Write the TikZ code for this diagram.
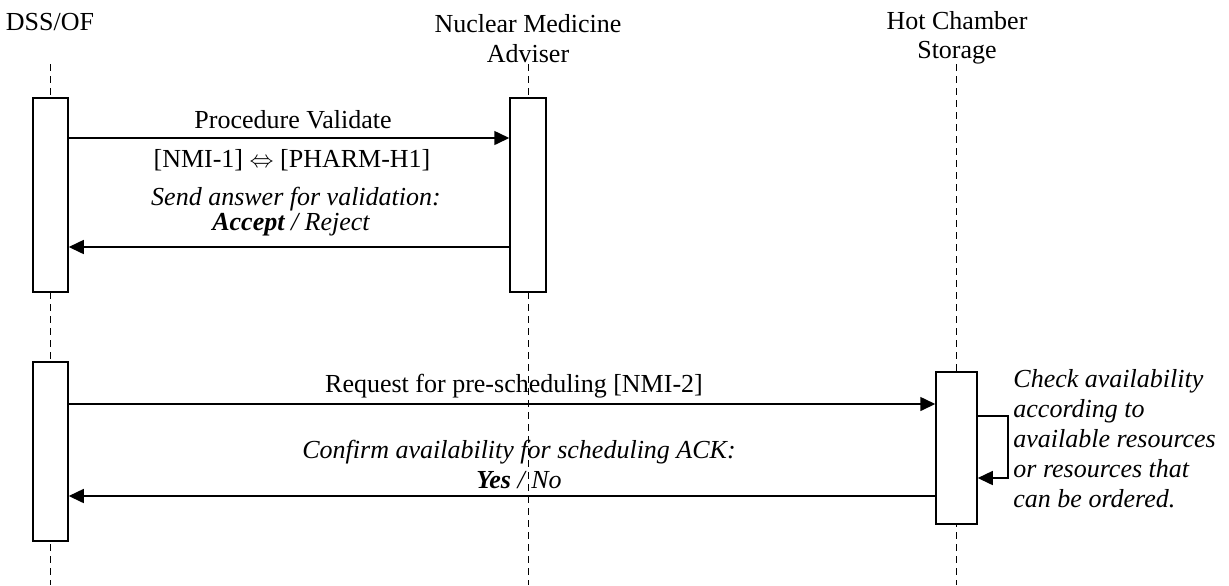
\documentclass[tikz,border=0pt]{standalone}
\usepackage{fontspec}
\setmainfont{Liberation Serif}
\usetikzlibrary{arrows.meta}
\begin{document}
\begin{tikzpicture}[x=0.5pt,y=-0.5pt,
  font=\fontsize{13}{14}\selectfont,
  act/.style={draw, line width=0.75pt, fill=white, inner sep=0pt, minimum width=17.5pt},
  life/.style={line width=0.75pt, dash pattern=on 3.5pt off 2.5pt},
  msg/.style={line width=0.75pt, -{Triangle[length=7.5pt,width=7pt]}},
  lbl/.style={inner sep=0pt, anchor=base},
  itl/.style={inner sep=0pt, anchor=base, font=\fontsize{13}{14}\selectfont\itshape},
  note/.style={inner sep=0pt, anchor=base west, font=\fontsize{13}{14}\selectfont\itshape}]
\useasboundingbox (0,0) rectangle (1229,585);

% actor labels
\node[lbl] (dss) at (50,30) {DSS/OF};
\node[lbl] (nma1) at (528,32) {Nuclear Medicine};
\node[lbl] (nma2) at (528,62) {Adviser};
\node[lbl] (hcs1) at (957,29) {Hot Chamber};
\node[lbl] (hcs2) at (957,58) {Storage};

% lifelines
\coordinate (dssT) at (50.5,64);  \coordinate (dssB) at (50.5,585);
\coordinate (nmaT) at (528.5,64); \coordinate (nmaB) at (528.5,585);
\coordinate (hcsT) at (956.5,64); \coordinate (hcsB) at (956.5,585);
\draw[life] (dssT) -- (dssB);
\draw[life] (nmaT) -- (nmaB);
\draw[life] (hcsT) -- (hcsB);

% activation boxes
\node[act, minimum height=97pt] (b1) at (50.5,195) {};
\node[act, minimum height=97pt, minimum width=18pt] (b2) at (528,195) {};
\node[act, minimum height=89.5pt] (b3) at (50.5,451.5) {};
\node[act, minimum height=76pt, minimum width=20.5pt] (b4) at (956.5,448) {};

% message 1
\coordinate (y1) at (0,138);
\draw[msg] (b1.east |- y1) -- (b2.west |- y1);
\node[lbl] (t1) at (293,128) {Procedure Validate};
\node[lbl] (t2) at (292,167) {[NMI-1] $\Leftrightarrow$ [PHARM-H1]};

% message 2
\coordinate (y2) at (0,247);
\draw[msg] (b2.west |- y2) -- (b1.east |- y2);
\node[itl] (t3) at (296,205) {Send answer for validation:};
\node[itl] (t4) at (291,230) {\textbf{Accept} / Reject};

% message 3
\coordinate (y3) at (0,404);
\draw[msg] (b3.east |- y3) -- (b4.west |- y3);
\node[lbl] (t5) at (514,392) {Request for pre-scheduling [NMI-2]};

% message 4
\coordinate (y4) at (0,496);
\draw[msg] (b4.west |- y4) -- (b3.east |- y4);
\node[itl] (t6) at (519,458) {Confirm availability for scheduling ACK:};
\node[itl] (t7) at (519,488) {\textbf{Yes} / No};

% self message
\coordinate (s1) at (0,416);
\coordinate (s2) at (1008,416);
\coordinate (s3) at (1008,478);
\coordinate (s4) at (0,478);
\draw[msg] (b4.east |- s1) -- (s2) -- (s3) -- (b4.east |- s4);
\node[note] (n1) at (1013,387) {Check availability};
\node[note] (n2) at (1013,417) {according to};
\node[note] (n3) at (1013,447) {available resources};
\node[note] (n4) at (1013,477) {or resources that};
\node[note] (n5) at (1013,507) {can be ordered.};
\end{tikzpicture}
\end{document}
